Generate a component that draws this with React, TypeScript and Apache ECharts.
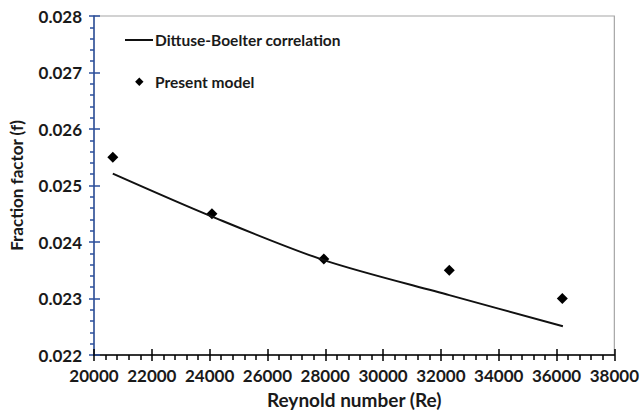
import React, { useEffect, useRef } from "react";
import * as echarts from "echarts";

const modelRe = [20650, 24080, 27950, 32290, 36200];
const modelF = [0.0255, 0.0245, 0.0237, 0.0235, 0.023];
const corrRe = [20650, 24080, 27950, 32290, 36220];
const corrF = [0.02521, 0.02445, 0.02368, 0.02306, 0.02251];
const seriesNames = ["Dittuse-Boelter correlation", "Present model"];
const xTitle = "Reynold number (Re)";
const yTitle = "Fraction factor (f)";

const FONT = "Lato";
const TXT = "#1a1a1a";
const BLUE = "#2b4f9c";

export default function App() {
  const ref = useRef<HTMLDivElement>(null);
  useEffect(() => {
    if (!ref.current) return;
    const chart = echarts.init(ref.current, undefined, { renderer: "svg" });
    const grid = { left: 92.7, right: 22.7, top: 16, bottom: 58, show: true, borderColor: "#a6a6a6", borderWidth: 1.2 };
    const labelStyle = { color: TXT, fontFamily: FONT, fontWeight: "bold" as const, fontSize: 17 };
    const legendText = { fill: TXT, fontFamily: FONT, fontWeight: "bold", fontSize: 15.5 };
    chart.setOption({
      animation: false,
      backgroundColor: "#ffffff",
      grid,
      graphic: [
        { type: "line", shape: { x1: 125, y1: 40, x2: 153, y2: 40 }, style: { stroke: "#111", lineWidth: 2 } },
        { type: "text", x: 155, y: 40, style: { ...legendText, text: seriesNames[0], verticalAlign: "middle" } },
        {
          type: "polygon",
          shape: { points: [[139.3, 77.5], [143.5, 81.7], [139.3, 85.9], [135.1, 81.7]] },
          style: { fill: "#000" },
        },
        { type: "text", x: 155, y: 82, style: { ...legendText, text: seriesNames[1], verticalAlign: "middle" } },
      ],
      xAxis: [
        {
          type: "value",
          min: 20000,
          max: 38000,
          interval: 2000,
          name: xTitle,
          nameLocation: "middle",
          nameGap: 35,
          nameTextStyle: { color: TXT, fontFamily: FONT, fontWeight: "bold", fontSize: 19 },
          axisLine: { show: true, lineStyle: { color: "#000", width: 1.5 } },
          axisTick: { show: true, length: 6, lineStyle: { color: "#000", width: 1.5 } },
          minorTick: { show: true, splitNumber: 5, length: 5, lineStyle: { color: "#000", width: 1.5 } },
          splitLine: { show: false },
          axisLabel: { ...labelStyle, margin: 12, formatter: (v: number) => String(v) },
        },
        {
          type: "value",
          min: 20000,
          max: 38000,
          interval: 2000,
          position: "bottom",
          axisLine: { show: false },
          axisTick: { show: true, inside: true, length: 6, lineStyle: { color: "#000", width: 1.5 } },
          splitLine: { show: false },
          axisLabel: { show: false },
        },
      ],
      yAxis: [
        {
          type: "value",
          min: 0.022,
          max: 0.028,
          interval: 0.001,
          name: yTitle,
          nameLocation: "middle",
          nameGap: 69,
          nameRotate: 90,
          nameTextStyle: { color: TXT, fontFamily: FONT, fontWeight: "bold", fontSize: 17 },
          axisLine: { show: true, lineStyle: { color: BLUE, width: 1.5 } },
          axisTick: { show: true, length: 5, lineStyle: { color: BLUE, width: 1.5 } },
          minorTick: { show: true, splitNumber: 5, length: 4, lineStyle: { color: BLUE, width: 1.5 } },
          splitLine: { show: false },
          axisLabel: { ...labelStyle, margin: 12, formatter: (v: number) => v.toFixed(3) },
        },
        {
          type: "value",
          min: 0.022,
          max: 0.028,
          interval: 0.001,
          position: "left",
          axisLine: { show: false },
          axisTick: { show: true, inside: true, length: 6, lineStyle: { color: BLUE, width: 1.5 } },
          splitLine: { show: false },
          axisLabel: { show: false },
        },
      ],
      series: [
        {
          name: seriesNames[0],
          type: "line",
          smooth: 0.3,
          symbol: "none",
          lineStyle: { color: "#111", width: 2 },
          itemStyle: { color: "#111" },
          data: corrRe.map((x, i) => [x, corrF[i]]),
        },
        {
          name: seriesNames[1],
          type: "scatter",
          symbol: "diamond",
          symbolSize: 11,
          itemStyle: { color: "#000", opacity: 1 },
          data: modelRe.map((x, i) => [x, modelF[i]]),
        },
      ],
    });
    return () => chart.dispose();
  }, []);
  return <div ref={ref} style={{ position: "fixed", left: 0, top: 0, width: 642, height: 414 }} />;
}
